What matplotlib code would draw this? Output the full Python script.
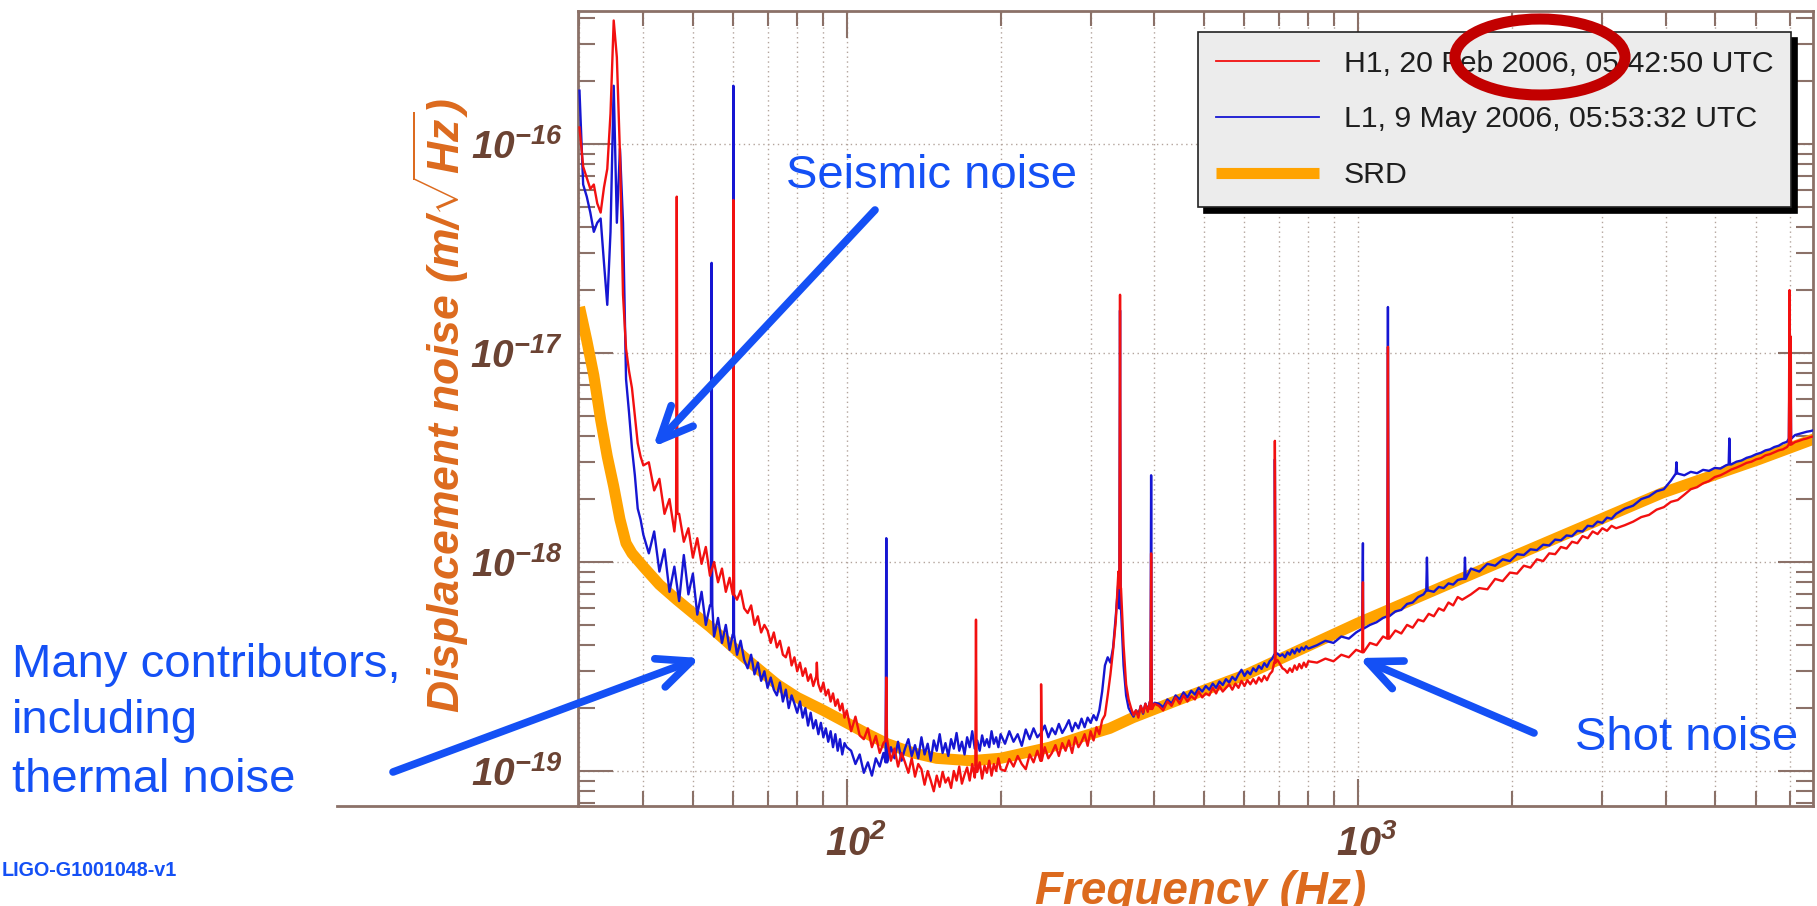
import numpy as np
import matplotlib
matplotlib.use("Agg")
import matplotlib.pyplot as plt
import matplotlib.transforms as mtransforms
from matplotlib.ticker import FixedLocator, LogLocator, FuncFormatter, NullFormatter
from matplotlib.patches import Ellipse, FancyArrowPatch
from matplotlib.lines import Line2D

# ---------------------------------------------------------------- data
# Frequency bins (Hz) shared by both detector spectra
freq_hz = [
    30.0, 30.5, 31.0, 31.5, 32.0, 32.5, 33.0, 33.5, 34.0, 34.5, 35.0, 35.5, 36.0, 36.5,
    37.0, 37.5, 38.0, 38.5, 39.0, 39.5, 40.0,
    41, 42, 43, 44, 45, 46, 47, 48, 49, 50, 51, 52, 53, 54, 55, 56, 57, 58, 59, 60,
    61, 62, 63, 64, 65, 66, 67, 68, 69, 70, 71, 72, 73, 74, 75, 76, 77, 78, 79, 80,
    81, 82, 83, 84, 85, 86, 87, 88, 89, 90, 91, 92, 93, 94, 95, 96, 97, 98, 99, 100,
    102, 104, 106, 108, 110, 112, 114, 116, 118, 120, 122, 124, 126, 128, 130, 132,
    134, 136, 138, 140, 142, 144, 146, 148, 150, 152, 154, 156, 158, 160, 162, 164,
    166, 168, 170, 172, 174, 176, 178, 180, 182, 184, 186, 188, 190, 192, 194, 196, 198, 200,
    204, 208, 212, 216, 220, 224, 228, 232, 236, 240, 244, 248, 252, 256, 260, 264,
    268, 272, 276, 280, 284, 288, 292, 296, 300, 304, 308, 312, 316, 320, 324, 328,
    332, 336, 340, 344, 348, 352, 356, 360, 364, 368, 372, 376, 380, 384, 388, 392, 396, 400,
    408, 416, 424, 432, 440, 448, 456, 464, 472, 480, 488, 496, 504, 512, 520, 528,
    536, 544, 552, 560, 568, 576, 584, 592, 600, 608, 616, 624, 632, 640, 648, 656,
    664, 672, 680, 688, 696, 704, 712, 720, 728, 736, 744, 752, 760, 768, 776, 784, 792, 800,
    832, 864, 896, 928, 960, 992, 1024, 1056, 1088, 1120, 1152, 1184, 1216, 1248,
    1280, 1312, 1344, 1376, 1408, 1440, 1472, 1504, 1536, 1568, 1600,
    1664, 1728, 1792, 1856, 1920, 1984, 2048, 2112, 2176, 2240, 2304, 2368, 2432,
    2496, 2560, 2624, 2688, 2752, 2816, 2880, 2944, 3008, 3072, 3136, 3200,
    3328, 3456, 3584, 3712, 3840, 3968, 4096, 4224, 4352, 4480, 4608, 4736, 4864,
    4992, 5120, 5248, 5376, 5504, 5632, 5760, 5888, 6016, 6144, 6272, 6400,
    6528, 6656, 6784, 6912, 7040, 7168, 7296, 7424, 7552, 7680, 7808,
]

# H1 displacement noise, units of 1e-19 m/rtHz
h1_asd = [
    1200, 780, 690, 610, 640, 520, 470, 620, 760, 1400, 3900, 2600, 900, 190,
    105, 82, 68, 50, 37, 32, 29,
    30, 22, 25, 17, 20, 14, 17, 12.5, 14.5, 10.5, 13, 9.8, 11.8, 8.6, 10, 8.0, 9.3, 7.2, 8.4, 7.0,
    6.6, 7.3, 6.0, 5.7, 6.2, 5.0, 5.5, 4.6, 5.0, 4.7, 4.1, 4.6, 3.9, 4.2, 3.6, 3.5, 3.9, 3.2, 3.5, 3.0,
    3.3, 2.85, 3.1, 2.7, 2.9, 2.55, 2.8, 2.6, 2.4, 2.65, 2.3, 2.45, 2.15, 2.35, 2.05, 2.2, 1.95, 2.1, 1.8, 1.95,
    1.55, 1.82, 1.48, 1.42, 1.6, 1.3, 1.47, 1.22, 1.36, 1.4, 1.12, 1.28, 1.05, 1.22, 1.1, 0.98,
    1.15, 0.94, 1.08, 1.02, 0.86, 1.0, 0.9, 0.8, 0.95, 0.84, 0.99, 0.88, 0.93, 0.83, 1.0, 0.9,
    1.05, 0.87, 0.96, 1.04, 0.9, 1.08, 0.93, 0.99, 1.1, 0.92, 1.06, 0.98, 1.12, 0.95, 1.08, 1.0, 1.15, 1.02,
    1.0, 1.14, 1.05, 1.18, 1.08, 1.02, 1.2, 1.1, 1.25, 1.12, 1.3, 1.15, 1.22, 1.33, 1.18, 1.36,
    1.25, 1.4, 1.22, 1.45, 1.3, 1.38, 1.5, 1.32, 1.55, 1.4, 1.62, 1.5, 1.75, 1.85, 2.3, 2.9,
    3.8, 5.2, 9.0, 7.5, 4.0, 2.6, 2.2, 2.0, 1.85, 1.95, 1.8, 2.05, 1.9, 2.1, 1.92, 2.15, 1.98, 2.1,
    2.05, 1.95, 2.15, 2.05, 2.25, 2.1, 2.3, 2.15, 2.28, 2.2, 2.4, 2.25, 2.35, 2.3, 2.5, 2.35,
    2.55, 2.4, 2.5, 2.6, 2.45, 2.62, 2.5, 2.7, 2.55, 2.72, 2.6, 2.75, 2.62, 2.8, 2.68, 2.85,
    2.72, 2.9, 3.0, 3.3, 3.4, 3.25, 3.1, 3.05, 2.95, 3.1, 2.98, 3.2, 3.05, 3.25, 3.1, 3.3, 3.15, 3.35,
    3.3, 3.45, 3.35, 3.6, 3.5, 3.8, 3.7, 4.1, 4.0, 4.4, 4.3, 4.7, 4.55, 5.0,
    4.85, 5.3, 5.2, 5.65, 5.5, 6.0, 5.85, 6.4, 6.2, 6.8, 6.6,
    7.0, 7.5, 7.4, 8.3, 8.1, 8.9, 8.8, 9.6, 9.4, 10.3, 10.1, 11.0, 10.9,
    11.8, 11.6, 12.5, 12.3, 13.3, 13.0, 14.0, 13.6, 14.5, 14.1, 14.9, 14.5,
    15.0, 15.6, 16.4, 16.8, 17.8, 18.3, 19.4, 19.8, 21.0, 22.3, 22.8, 23.8, 24.4,
    25.5, 26.0, 26.8, 27.7, 28.3, 29.0, 29.8, 30.2, 31.0, 31.4, 32.4, 32.8,
    33.5, 34.2, 34.6, 35.5, 36.5, 37.5, 38.0, 38.6, 39.0, 39.6, 40.0,
]

# L1 displacement noise, units of 1e-19 m/rtHz
l1_asd = [
    1800, 640, 560, 470, 380, 420, 440, 270, 170, 380, 1900, 420, 950, 420,
    75, 52, 35, 26, 18, 16, 13.5,
    11, 14, 9.0, 11.5, 7.2, 9.5, 6.5, 10.8, 7.0, 8.8, 5.6, 7.2, 5.0, 6.2, 4.4, 5.4, 4.1, 5.0, 3.8, 4.5,
    3.6, 4.2, 3.4, 3.1, 3.6, 2.9, 3.3, 2.7, 3.0, 2.5, 2.8, 2.45, 2.3, 2.65, 2.15, 2.45, 2.0, 2.3, 2.1, 1.9,
    2.15, 1.8, 2.0, 1.65, 1.9, 1.6, 1.75, 1.5, 1.7, 1.45, 1.6, 1.38, 1.55, 1.3, 1.5, 1.25, 1.42, 1.2, 1.36, 1.3,
    1.25, 1.08, 1.2, 0.98, 1.1, 0.95, 1.15, 1.05, 1.22, 1.1, 1.3, 1.15, 1.38, 1.12, 1.28, 1.42,
    1.18, 1.33, 1.15, 1.45, 1.2, 1.35, 1.12, 1.4, 1.25, 1.5, 1.22, 1.36, 1.18, 1.42, 1.28, 1.52,
    1.25, 1.38, 1.2, 1.45, 1.3, 1.55, 1.28, 1.4, 1.25, 1.48, 1.32, 1.42, 1.3, 1.55, 1.35, 1.45, 1.3, 1.5,
    1.35, 1.55, 1.38, 1.5, 1.32, 1.58, 1.42, 1.6, 1.45, 1.52, 1.65, 1.45, 1.6, 1.5, 1.68, 1.52,
    1.62, 1.75, 1.55, 1.7, 1.6, 1.78, 1.62, 1.8, 1.7, 1.85, 1.75, 1.95, 2.4, 3.2, 3.5, 3.3,
    3.9, 5.5, 8.0, 6.0, 3.2, 2.3, 2.0, 1.9, 1.82, 1.95, 1.85, 2.05, 1.88, 2.1, 1.95, 2.15, 2.0, 2.12,
    2.1, 2.02, 2.2, 2.1, 2.3, 2.2, 2.38, 2.25, 2.42, 2.32, 2.5, 2.4, 2.55, 2.45, 2.62, 2.5,
    2.68, 2.58, 2.75, 2.65, 2.82, 2.72, 2.9, 3.05, 2.85, 3.0, 2.9, 3.1, 3.0, 3.18, 3.08, 3.28,
    3.15, 3.35, 3.45, 3.6, 3.65, 3.55, 3.62, 3.5, 3.7, 3.6, 3.8, 3.65, 3.85, 3.72, 3.9, 3.8, 3.95, 3.85,
    4.0, 4.2, 4.1, 4.4, 4.3, 4.6, 4.8, 5.0, 5.15, 5.4, 5.5, 5.8, 5.9, 6.3,
    6.4, 6.8, 7.0, 7.3, 7.2, 7.6, 7.5, 7.9, 7.8, 8.2, 8.3,
    9.3, 9.0, 9.8, 9.6, 10.3, 10.1, 10.9, 10.8, 11.5, 11.4, 12.1, 12.0, 12.8,
    12.7, 13.4, 13.3, 14.1, 14.0, 14.9, 14.8, 15.6, 15.4, 16.3, 16.1, 17.0,
    18.0, 18.6, 20.0, 20.6, 21.8, 22.3, 24.5, 26.5, 26.0, 27.0, 26.6, 27.6, 27.3,
    28.2, 28.0, 29.0, 29.3, 30.2, 30.6, 31.5, 32.0, 32.8, 33.3, 34.2, 34.6,
    35.5, 36.0, 37.0, 37.6, 39.0, 40.5, 41.0, 41.5, 42.0, 42.3, 42.8,
]

# Narrow spectral lines: frequency (Hz) and peak height (1e-19 m/rtHz); nan = absent
line_freq_hz = [46.5, 54.4, 60.0, 87.4, 119.5, 179.0, 240.0, 342.5, 394.0, 688.0,
                1023.0, 1145.0, 1365.0, 1620.0, 4200.0, 5330.0, 6990.0, 7030.0]
h1_line_peak = [560, np.nan, 540, 3.3, 2.8, 5.3, 2.6, 190, 11, 38,
                8.0, 107, np.nan, np.nan, np.nan, np.nan, 200, 120]
l1_line_peak = [np.nan, 270, 1900, np.nan, 13, np.nan, np.nan, 160, 26, 31,
                12.3, 166, 10.5, 10.5, 30, 39, 90, 60]

# Science Requirements Document design curve, units of 1e-19 m/rtHz
srd_freq_hz = [30, 31, 32, 33, 34, 35, 36, 37, 38, 40, 43, 46.5, 50, 54, 58, 62.6, 68, 73,
               80, 90, 100, 110, 120, 135, 150, 175, 200, 250, 286, 327, 363, 448, 606,
               770, 1000, 1570, 2460, 3940, 6100, 7850]
srd_asd = [166, 115, 78, 48, 32, 23, 16, 12.3, 11.0, 9.5, 7.8, 6.6, 5.7, 4.9, 4.2, 3.55,
           3.0, 2.6, 2.25, 1.95, 1.7, 1.5, 1.35, 1.22, 1.15, 1.12, 1.15, 1.3, 1.45, 1.6,
           1.8, 2.2, 2.9, 3.8, 5.1, 8.2, 13.1, 21.4, 31, 39]

UNIT = 1e-19

legend_labels = ["H1, 20 Feb 2006, 05:42:50 UTC",
                 "L1, 9 May 2006, 05:53:32 UTC",
                 "SRD"]

assert len(freq_hz) == len(h1_asd) == len(l1_asd)


def add_lines(freq, asd, peaks):
    """Splice narrow spectral lines into a broadband spectrum."""
    freq = np.asarray(freq, float)
    asd = np.asarray(asd, float)
    f = list(freq)
    v = list(asd)
    for lf, pk in zip(line_freq_hz, peaks):
        if np.isnan(pk):
            continue
        k = int(np.argmin(np.abs(np.log(freq / lf))))
        floor = asd[k]
        f += [lf * 0.997, lf, lf * 1.003]
        v += [floor, pk, floor]
    order = np.argsort(f, kind="stable")
    return np.asarray(f)[order], np.asarray(v)[order] * UNIT


# ---------------------------------------------------------------- style
plt.rcParams["font.family"] = ["Liberation Sans", "DejaVu Sans"]
plt.rcParams["mathtext.fontset"] = "custom"
plt.rcParams["mathtext.rm"] = "Liberation Sans:bold:italic"
plt.rcParams["mathtext.it"] = "Liberation Sans:bold:italic"
plt.rcParams["mathtext.bf"] = "Liberation Sans:bold:italic"

W, H = 1817, 906
frame_col = "#8b7168"
tick_lbl_col = "#6b4333"
axis_title_col = "#dc6a1e"
grid_col = "#b3a49c"
note_col = "#1450f5"

fig = plt.figure(figsize=(W / 100, H / 100), dpi=100)
fig.patch.set_facecolor("white")

ax_left, ax_right, ax_top, ax_bottom = 578, 1813, 11, 806
ax = fig.add_axes([ax_left / W, (H - ax_bottom) / H,
                   (ax_right - ax_left) / W, (ax_bottom - ax_top) / H])

f_h1, v_h1 = add_lines(freq_hz, h1_asd, h1_line_peak)
f_l1, v_l1 = add_lines(freq_hz, l1_asd, l1_line_peak)

srd_line, = ax.plot(srd_freq_hz, np.asarray(srd_asd) * UNIT, color="#ffa300", lw=8,
                    solid_capstyle="butt", zorder=2, label=legend_labels[2])
l1_line, = ax.plot(f_l1, v_l1, color="#1616d2", lw=1.7, zorder=3, label=legend_labels[1])
h1_line, = ax.plot(f_h1, v_h1, color="#f21010", lw=1.7, zorder=4, label=legend_labels[0])

ax.set_xscale("log")
ax.set_yscale("log")
ax.set_xlim(29.8, 7770)
ax.set_ylim(6.8e-20, 4.33e-16)

# ticks
ax.xaxis.set_major_locator(FixedLocator([100, 1000]))
ax.xaxis.set_minor_locator(LogLocator(base=10, subs=np.arange(2, 10), numticks=30))
ax.yaxis.set_major_locator(FixedLocator([1e-19, 1e-18, 1e-17, 1e-16]))
ax.yaxis.set_minor_locator(LogLocator(base=10, subs=np.arange(2, 10), numticks=30))


def decade_label(v, pos):
    return r"$10^{%d}$" % int(round(np.log10(v)))


ax.xaxis.set_major_formatter(FuncFormatter(decade_label))
ax.yaxis.set_major_formatter(FuncFormatter(decade_label))
ax.xaxis.set_minor_formatter(NullFormatter())
ax.yaxis.set_minor_formatter(NullFormatter())

ax.tick_params(axis="both", which="both", direction="in", top=True, right=True,
               color=frame_col, labelcolor=tick_lbl_col)
ax.tick_params(axis="y", which="major", length=25, width=1.5, pad=10.8, labelsize=28)
ax.tick_params(axis="y", which="minor", length=12, width=1.5)
ax.tick_params(axis="x", which="major", length=19.5, width=1.5, pad=13, labelsize=28.5)
ax.tick_params(axis="x", which="minor", length=11, width=1.5)

# exponent labels on the frequency axis sit slightly right of their ticks
shift_right = mtransforms.ScaledTranslation(9 / 100, 0, fig.dpi_scale_trans)
for tk in ax.xaxis.get_major_ticks():
    tk.label1.set_transform(tk.label1.get_transform() + shift_right)

for sp in ax.spines.values():
    sp.set_color(frame_col)
    sp.set_linewidth(2)

ax.set_axisbelow(True)
ax.grid(True, which="both", axis="x", color=grid_col, ls=(0, (1, 2.5)), lw=1)
ax.grid(True, which="major", axis="y", color=grid_col, ls=(0, (1, 2.5)), lw=1)

# axis titles
ax.set_ylabel(r"Displacement noise (m/$\sqrt{Hz}$)", fontsize=32, fontweight="bold",
              style="italic", color=axis_title_col, va="center")
ax.yaxis.set_label_coords((441 - ax_left) / (ax_right - ax_left),
                          (ax_bottom - 405) / (ax_bottom - ax_top))
ax.set_xlabel("Frequency (Hz)", fontsize=33, fontweight="bold", style="italic",
              color=axis_title_col, va="baseline")
ax.xaxis.set_label_coords((1201 - ax_left) / (ax_right - ax_left),
                          (ax_bottom - 904) / (ax_bottom - ax_top))

# legend
leg = ax.legend(handles=[h1_line, l1_line, srd_line], loc="upper left",
                bbox_to_anchor=(1198 / W, 1 - 32 / H), bbox_transform=fig.transFigure,
                fontsize=21.8, frameon=True, fancybox=False,
                shadow={"ox": 4.3, "oy": -4.3, "color": "black", "alpha": 1},
                facecolor="#ececec", edgecolor="#222222", framealpha=1,
                borderpad=0.58, labelspacing=0.92, handlelength=3.4,
                handletextpad=0.83, borderaxespad=0)
leg.get_frame().set_linewidth(1.2)
for t in leg.get_texts():
    t.set_color("#1e1e1e")
for hl in leg.get_lines()[:2]:
    hl.set_linewidth(1.3)

# lower frame edge continues to the left of the plot
fig.add_artist(Line2D([337 / W, ax_left / W], [(H - ax_bottom) / H] * 2,
                      transform=fig.transFigure, color=frame_col, lw=2))

# highlight around the H1 timestamp
fig.add_artist(Ellipse((1540 / W, 1 - 57 / H), 170 / W, 76 / H, transform=fig.transFigure,
                       fill=False, edgecolor="#c20000", lw=8, zorder=10))


# annotations
def note(x, y_base, s, **kw):
    fig.text(x / W, 1 - y_base / H, s, color=note_col, va="baseline", ha="left", **kw)


note(786, 188, "Seismic noise", fontsize=34)
note(1575, 750, "Shot noise", fontsize=34)
note(12, 677, "Many contributors,", fontsize=34)
note(12, 733, "including", fontsize=34)
note(12, 792, "thermal noise", fontsize=34)
note(2, 876, "LIGO-G1001048-v1", fontsize=14.2, fontweight="bold")


def pointer(tail, tip):
    fig.add_artist(FancyArrowPatch((tail[0] / W, 1 - tail[1] / H), (tip[0] / W, 1 - tip[1] / H),
                                   transform=fig.transFigure,
                                   arrowstyle="->,head_length=0.8,head_width=0.36",
                                   mutation_scale=30, lw=5.5, color=note_col,
                                   shrinkA=0, shrinkB=0, zorder=11))


pointer((875, 210), (653, 447))
pointer((393, 772), (700, 658))
pointer((1534, 733), (1359, 658))

fig.savefig("out.png", dpi=100)
